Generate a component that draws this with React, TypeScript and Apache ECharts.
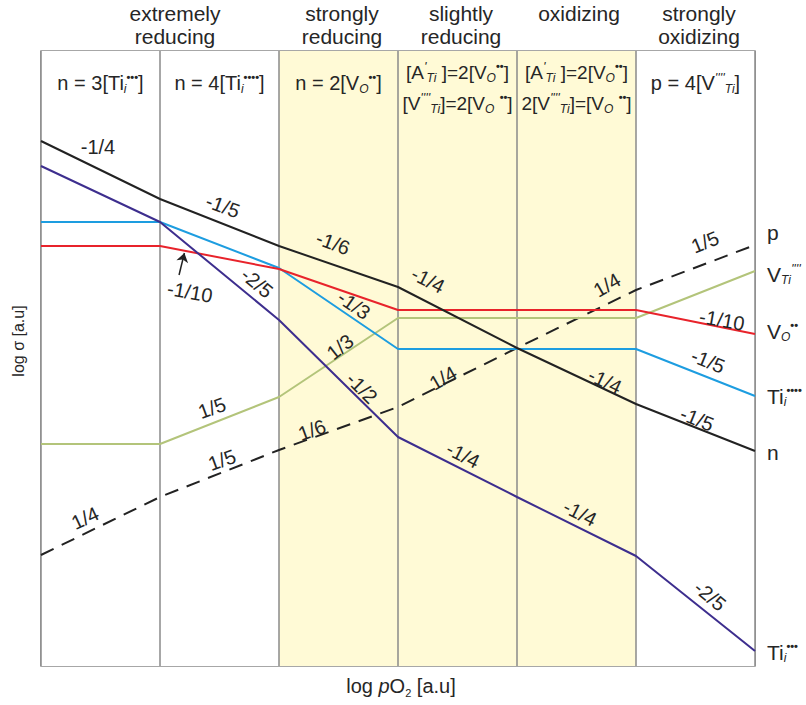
import React, { useEffect, useRef } from "react";
import * as echarts from "echarts";

// Region boundaries on the log pO2 axis (arbitrary units)
const regionBounds = [0, 1, 2, 3, 4, 5, 6];
// log sigma values (arbitrary units) at each region boundary
const nValues = [525, 467, 420, 379, 318, 262, 215];
const tiI3Values = [500, 444, 346, 229, 169, 110, 15];
const tiI4Values = [444, 444, 398, 317, 317, 317, 270];
const vOValues = [420, 420, 397, 356, 356, 356, 332];
const vTiValues = [222, 222, 269, 348, 348, 348, 395];
const pValues = [111, 169, 216, 259, 318, 376, 421];

// Slope annotations: [x, y, text, rotation]
const slopeLabels: [number, number, string, number][] = [
  [0.479, 519, "-1/4", 0],
  [1.529, 460, "-1/5", -20],
  [2.454, 423, "-1/6", -20],
  [3.252, 386, "-1/4", -27],
  [4.739, 285, "-1/4", -25],
  [5.513, 247, "-1/5", -22],
  [1.252, 374, "-1/10", -10],
  [2.63, 361, "-1/3", -35],
  [5.723, 346, "-1/10", -10],
  [5.605, 305, "-1/5", -22],
  [1.815, 383, "-2/5", -40],
  [2.697, 278, "-1/2", -45],
  [3.546, 211, "-1/4", -27],
  [4.529, 153, "-1/4", -27],
  [5.622, 70, "-2/5", -40],
  [1.437, 258, "1/5", 20],
  [2.513, 319, "1/3", 38],
  [0.37, 148, "1/4", 25],
  [1.521, 206, "1/5", 20],
  [2.277, 236, "1/6", 20],
  [3.378, 288, "1/4", 30],
  [4.756, 381, "1/4", 30],
  [5.58, 424, "1/5", 22],
];

const regionNames = [
  "",
  "extremely\nreducing",
  "strongly\nreducing",
  "slightly\nreducing",
  "oxidizing",
  "strongly\noxidizing",
];
const regionNameX = [0, 175, 342, 461, 579, 699];

const FONT = "'Liberation Sans', Arial, Helvetica, sans-serif";
const TXT = "#262626";

const rich = {
  sub: { fontSize: 12, fontStyle: "italic" as const, verticalAlign: "bottom" as const, lineHeight: 14, fontFamily: FONT, fill: TXT, color: TXT },
  sup: { fontSize: 11, fontWeight: "bold" as const, verticalAlign: "top" as const, lineHeight: 11, fontFamily: FONT, fill: TXT, color: TXT },
  pr: { fontSize: 13, fontStyle: "italic" as const, verticalAlign: "top" as const, lineHeight: 13, fontFamily: FONT, fill: TXT, color: TXT },
  it: { fontSize: 20, fontStyle: "italic" as const, lineHeight: 24, fontFamily: FONT, fill: TXT, color: TXT },
  s2: { fontSize: 11, verticalAlign: "bottom" as const, lineHeight: 12, fontFamily: FONT, fill: TXT, color: TXT },
};

function txt(text: string, x: number, y: number, size: number, align: string = "center", rotation = 0) {
  return {
    type: "text",
    x,
    y,
    rotation,
    silent: true,
    z: 10,
    style: {
      text,
      x: 0,
      y: 0,
      align,
      verticalAlign: "middle",
      fontSize: size,
      fontFamily: FONT,
      fill: TXT,
      lineHeight: 24,
      rich,
    },
  };
}

export default function App() {
  const ref = useRef<HTMLDivElement>(null);
  useEffect(() => {
    if (!ref.current) return;
    const chart = echarts.init(ref.current, undefined, { renderer: "svg" });
    const line = (vals: number[], color: string, dashed = false) => ({
      type: "line",
      data: regionBounds.map((x, i) => [x, vals[i]]),
      symbol: "none",
      showSymbol: false,
      silent: true,
      z: 3,
      lineStyle: { color, width: 2, type: dashed ? [14, 9] : "solid" },
    });
    const cx = (i: number) => 41 + 119 * (i + 0.5);
    const graphic: any[] = [];
    regionNames.forEach((t, i) => {
      if (!t) return;
      const parts = t.split("\n");
      graphic.push(txt(parts[0], regionNameX[i], 13, 21));
      if (parts[1]) graphic.push(txt(parts[1], regionNameX[i], 36, 21));
    });
    graphic.push(txt("n = 3[Ti{sub|i}{sup|•••}]", cx(0), 83, 20));
    graphic.push(txt("n = 4[Ti{sub|i}{sup|••••}]", cx(1), 83, 20));
    graphic.push(txt("n = 2[V{sub|O}{sup|••}]", cx(2), 83, 20));
    graphic.push(txt("[A{pr|'}{sub|Ti} ]=2[V{sub|O}{sup|••}]", cx(3), 72, 19));
    graphic.push(txt("[V{pr|''''}{sub|Ti}]=2[V{sub|O} {sup|••}]", cx(3), 103, 19));
    graphic.push(txt("[A{pr|'}{sub|Ti} ]=2[V{sub|O}{sup|••}]", cx(4), 72, 19));
    graphic.push(txt("2[V{pr|''''}{sub|Ti}]=[V{sub|O} {sup|••}]", cx(4), 103, 19));
    graphic.push(txt("p = 4[V{pr|''''}{sub|Ti}]", cx(5), 83, 20));
    // right-side species labels
    graphic.push(txt("p", 767, 232, 21, "left"));
    graphic.push(txt("V{sub|Ti}{pr|''''}", 767, 274, 21, "left"));
    graphic.push(txt("V{sub|O}{sup|••}", 767, 331, 21, "left"));
    graphic.push(txt("Ti{sub|i}{sup|••••}", 767, 396, 21, "left"));
    graphic.push(txt("n", 767, 452, 21, "left"));
    graphic.push(txt("Ti{sub|i}{sup|•••}", 767, 652, 21, "left"));
    // axis titles
    graphic.push(txt("log {it|p}O{s2|2} [a.u]", 401, 686, 20));
    graphic.push(txt("log σ [a.u]", 18, 341, 16, "center", Math.PI / 2));

    chart.setOption({
      animation: false,
      grid: { left: 41, right: 51, top: 51, bottom: 39, show: true, borderColor: "#8a8a8a", borderWidth: 1.5, backgroundColor: "#ffffff" },
      xAxis: {
        type: "value",
        min: 0,
        max: 6,
        interval: 1,
        axisLine: { show: false },
        axisTick: { show: false },
        axisLabel: { show: false },
        splitLine: { show: true, lineStyle: { color: "#8a8a8a", width: 1.5 } },
        splitArea: {
          show: true,
          areaStyle: { color: ["#ffffff", "#ffffff", "#fffad6", "#fffad6", "#fffad6", "#ffffff"] },
        },
      },
      yAxis: {
        type: "value",
        min: 0,
        max: 615,
        axisLine: { show: false },
        axisTick: { show: false },
        axisLabel: { show: false },
        splitLine: { show: false },
      },
      series: [
        line(pValues, "#222222", true),
        line(vTiValues, "#b3c47a"),
        line(tiI4Values, "#1d9de0"),
        {
          ...line(vOValues, "#e8232b"),
          markLine: {
            silent: true,
            symbol: ["none", "arrow"],
            symbolSize: 9,
            label: { show: false },
            lineStyle: { color: "#222222", width: 1.5, type: "solid" },
            data: [[{ coord: [1.16, 391] }, { coord: [1.205, 413] }]],
          },
        },
        line(tiI3Values, "#3d2e8e"),
        line(nValues, "#222222"),
        {
          type: "scatter",
          symbolSize: 1,
          silent: true,
          z: 6,
          itemStyle: { color: "#222222", opacity: 0 },
          label: {
            show: true,
            position: "inside",
            formatter: "{b}",
            fontSize: 20,
            color: TXT,
            opacity: 1,
            textBorderWidth: 0,
            textBorderColor: "transparent",
            fontFamily: FONT,
          },
          data: slopeLabels.map(([x, y, t, r]) => ({ name: t, value: [x, y], label: { rotate: r } })),
        },
      ],
      graphic,
    });
    return () => chart.dispose();
  }, []);
  return <div ref={ref} style={{ position: "fixed", left: 0, top: 0, width: 806, height: 705, background: "#fff" }} />;
}
